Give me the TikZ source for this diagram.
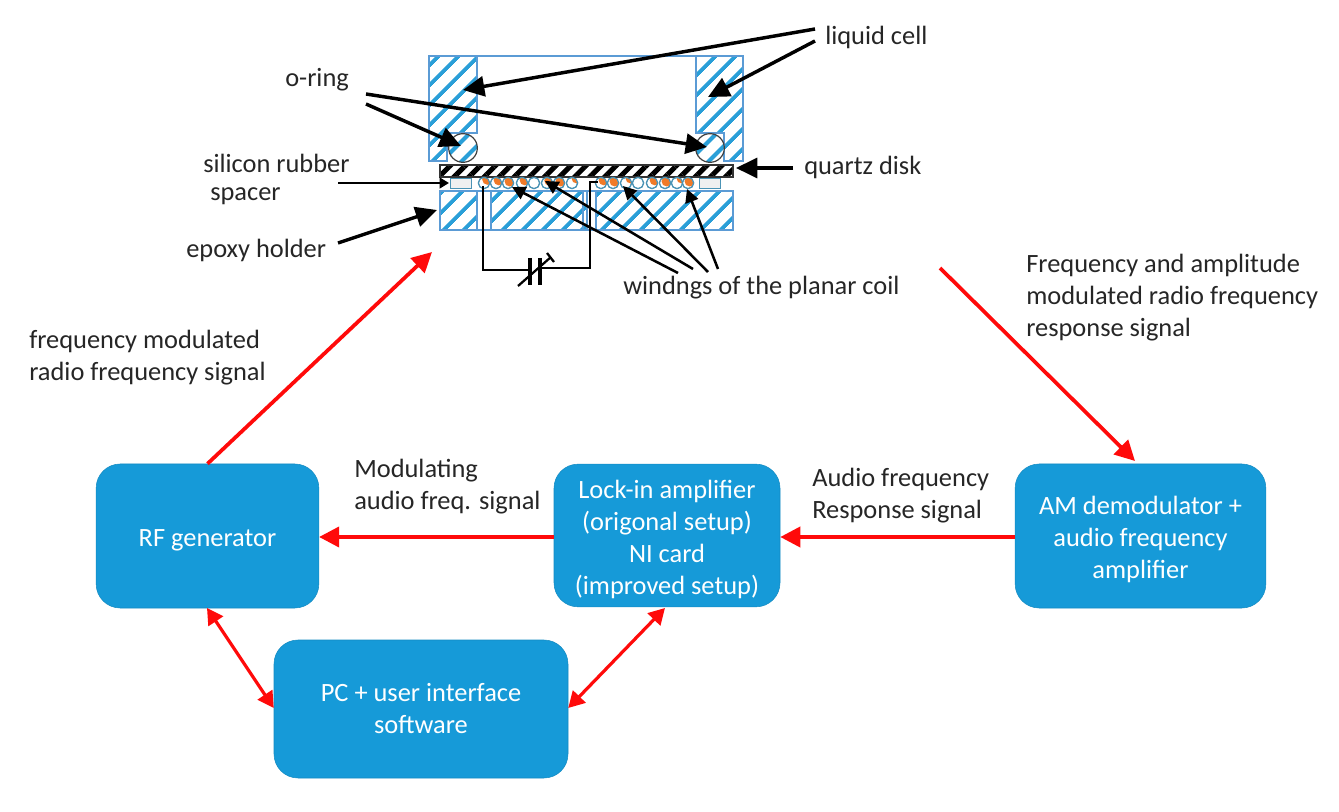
\documentclass[tikz,border=0pt]{standalone}
\usepackage{fontspec}
\setmainfont{Carlito}
\usetikzlibrary{arrows.meta,patterns,patterns.meta}
\definecolor{boxblue}{HTML}{169AD8}
\definecolor{hatchblue}{HTML}{2A9FD8}
\definecolor{edgeblue}{HTML}{5B9BD5}
\definecolor{arrred}{HTML}{FF0A0A}
\definecolor{coilorange}{HTML}{F07A28}
\definecolor{coiledge}{HTML}{4A93B5}
\definecolor{txt}{HTML}{262626}
\newcommand{\lowerfirst}{\rule{0pt}{19pt}}
\tikzset{
  x=0.75pt,y=-0.75pt,
  block/.style={draw=boxblue!90!black,fill=boxblue,rounded corners=18pt,inner sep=0pt,align=center,text=white,font=\fontsize{19.8}{24}\selectfont},
  lbl/.style={inner sep=0pt,align=left,anchor=west,text=txt,font=\fontsize{19.8}{24}\selectfont},
  redarr/.style={draw=arrred,line width=2.8pt,-{Triangle[length=15pt,width=15pt]}},
  reddbl/.style={draw=arrred,line width=2.4pt,{Triangle[length=12pt,width=13pt]}-{Triangle[length=12pt,width=13pt]}},
  blkarr/.style={draw=black,line width=2.6pt,-{Triangle[length=16pt,width=15pt]}},
  thinarr/.style={draw=black,line width=1.6pt,-{Triangle[length=7pt,width=8pt]}},
  finearr/.style={draw=black,line width=1.9pt,-{Triangle[length=10pt,width=10pt]}},
  wire/.style={draw=black,line width=1.7pt},
  hatchb/.style={draw=edgeblue,line width=0.8pt,pattern={Lines[angle=45,distance=10.5pt,line width=3pt]},pattern color=hatchblue},
  hatchk/.style={draw=black!80,line width=1pt,pattern={Lines[angle=45,distance=8pt,line width=3.8pt]},pattern color=black},
  coil/.style={circle,draw=coiledge,line width=0.8pt,minimum size=8.5pt,inner sep=0pt},
  spacer/.style={draw=coiledge,line width=0.8pt,fill=black!6,minimum width=16pt,minimum height=8pt,inner sep=0pt},
  oring/.style={circle,draw=black!75,line width=0.9pt,minimum size=21.5pt,inner sep=0pt},
  ringstripe/.style={draw=hatchblue,line width=3pt},
}
\begin{document}
\begin{tikzpicture}
\useasboundingbox (0,0) rectangle (1339,812);
\fill[white] (0,0) rectangle (1339,812);
% cell
\draw[hatchb] (429,56) -- (477,56) -- (477,133) -- (447,133) -- (447,161) -- (429,161) -- cycle;
\draw[hatchb] (696,56) -- (743,56) -- (743,161) -- (724,161) -- (724,133) -- (696,133) -- cycle;
\draw[draw=edgeblue,line width=0.8pt] (477,56) -- (696,56);
\foreach \rx in {463,710}{
  \fill[white] (\rx,148) circle (10.7pt);
  \begin{scope}
    \clip (\rx,148) circle (10.7pt);
    \draw[ringstripe] (\rx-18,148+10) -- (\rx+8,148-16);
    \draw[ringstripe] (\rx-8,148+20) -- (\rx+18,148-6);
  \end{scope}
}
\node[oring] (ol) at (463,148) {};
\node[oring] (or) at (710,148) {};
\coordinate (cellL) at (463,90);
\coordinate (cellR) at (708,97);
% quartz
\draw[hatchk] (440,165) rectangle (733,177);
\coordinate (qz) at (736,168);
% spacers
\node[spacer] (sl) at (461,183.5) {};
\node[spacer] (sr) at (710,183.5) {};
% holder
\draw[hatchb] (440,191) rectangle (477,230);
\draw[hatchb] (491,191) rectangle (587,230);
\draw[draw=edgeblue,line width=0.8pt] (477,191) rectangle (491,230);
\draw[draw=edgeblue,line width=0.8pt] (583,191) -- (583,230);
\draw[draw=edgeblue,line width=0.8pt] (587,191) rectangle (596,230);
\draw[hatchb] (596,191) rectangle (733,230);
% coils
\foreach \n/\cx/\k in {a/484/3.6,b/496/3,c/508/1.8,d/522/3,e/534/0,f/547/2.6,g/559/1.8,h/572/5,
                       i/601/3,j/613/1.8,k/626/5,l/638/0,m/652/3,n/665/1.8,o/677/5,p/688/1.8}{
  \node[coil,fill=white] (c\n) at (\cx,183) {};
  \ifdim\k pt>0pt
    \begin{scope}
      \clip (\cx,183) circle (3.9pt);
      \fill[coilorange] (\cx,183) ++(45:\k pt) circle (3.9pt);
    \end{scope}
  \fi
  \node[coil] at (\cx,183) {};
}
% wires and capacitor
\coordinate (wa) at (483,186);
\coordinate (wb) at (483,270);
\coordinate (wc) at (530,270);
\coordinate (wd) at (540,268);
\coordinate (we) at (590,268);
\coordinate (wf) at (590,182);
\coordinate (wg) at (598,182);
\draw[wire] (wa) -- (wb) -- (wc);
\draw[wire] (wd) -- (we) -- (wf) -- (wg);
\coordinate (pa) at (530,258); \coordinate (pb) at (530,285);
\coordinate (pc) at (540,258); \coordinate (pd) at (540,285);
\draw[line width=2.4pt] (pa) -- (pb);
\draw[line width=2.4pt] (pc) -- (pd);
\coordinate (va) at (518,286); \coordinate (vb) at (551,257);
\coordinate (vc) at (547,253); \coordinate (vd) at (554,262);
\draw[line width=1.7pt] (va) -- (vb);
\draw[line width=1.7pt] (vc) -- (vd);
% labels
\node[lbl] (tliq) at (825,37) {liquid cell};
\node[lbl] (tor) at (285,80) {o-ring};
\node[lbl] (tsi) at (203,163) {silicon rubber};
\node[lbl] (tsp) at (210,196.5) {spacer};
\node[lbl] (tep) at (186,250) {epoxy holder};
\node[lbl] (tqz) at (804,167) {quartz disk};
\node[lbl] (twn) at (623,288) {windngs of the planar coil};
\node[lbl] (tfr) at (1026,298) {Frequency and amplitude\\modulated radio frequency\\response signal};
\node[lbl] (tfm) at (29,358) {frequency modulated\\radio frequency signal};
\node[lbl] (tmo) at (354,486.5) {Modulating\\audio freq. signal};
\node[lbl] (tau) at (812,496) {Audio frequency\\Response signal};
% black arrows
\coordinate (la) at (815,29); \coordinate (lb) at (815,41);
\draw[blkarr] (la) -- (cellL);
\draw[blkarr] (lb) -- (cellR);
\coordinate (oa) at (366,94); \coordinate (ob) at (366,104);
\coordinate (ota) at (707,147); \coordinate (otb) at (461,146);
\draw[blkarr] (oa) -- (ota);
\draw[blkarr] (ob) -- (otb);
\coordinate (qs) at (793,168);
\draw[blkarr] (qs) -- (qz);
\coordinate (ss) at (338,183); \coordinate (st) at (449,183);
\draw[thinarr] (ss) -- (st);
\coordinate (es) at (338,243); \coordinate (et) at (437,210);
\draw[blkarr] (es) -- (et);
\coordinate (w1) at (678,273); \coordinate (w2) at (693,269); \coordinate (w3) at (708,272); \coordinate (w4) at (718,269);
\coordinate (t1) at (512,187); \coordinate (t2) at (545,181); \coordinate (t3) at (623,186); \coordinate (t4) at (687,189);
\foreach \i in {1,2,3,4}{\draw[finearr] (w\i) -- (t\i);}
% blocks
\node[block,minimum width=167pt,minimum height=108pt] (rf) at (207.5,536) {\lowerfirst RF generator};
\node[block,minimum width=169.5pt,minimum height=107pt] (li) at (667,535.5) {\lowerfirst Lock-in amplifier\\(origonal setup)\\NI card\\(improved setup)};
\node[block,minimum width=188pt,minimum height=108pt] (am) at (1140.5,536) {\lowerfirst AM demodulator +\\audio frequency\\amplifier};
\node[block,minimum width=220.5pt,minimum height=103.5pt] (pc) at (421,709) {PC + user interface\\software};
% red arrows
\coordinate (r1) at (432,252); \coordinate (r2) at (940,268); \coordinate (r3) at (1135,461);
\coordinate (dl) at (207,608); \coordinate (dr) at (665,608);
\draw[redarr] (rf.north) -- (r1);
\draw[redarr] (r2) -- (r3);
\draw[redarr] (am.west |- 0,537) -- (li.east |- 0,537);
\draw[redarr] (li.west |- 0,537) -- (rf.east |- 0,537);
\draw[reddbl] (dl) -- (pc.west |- 0,708);
\draw[reddbl] (dr) -- (pc.east |- 0,708);
\end{tikzpicture}
\end{document}
